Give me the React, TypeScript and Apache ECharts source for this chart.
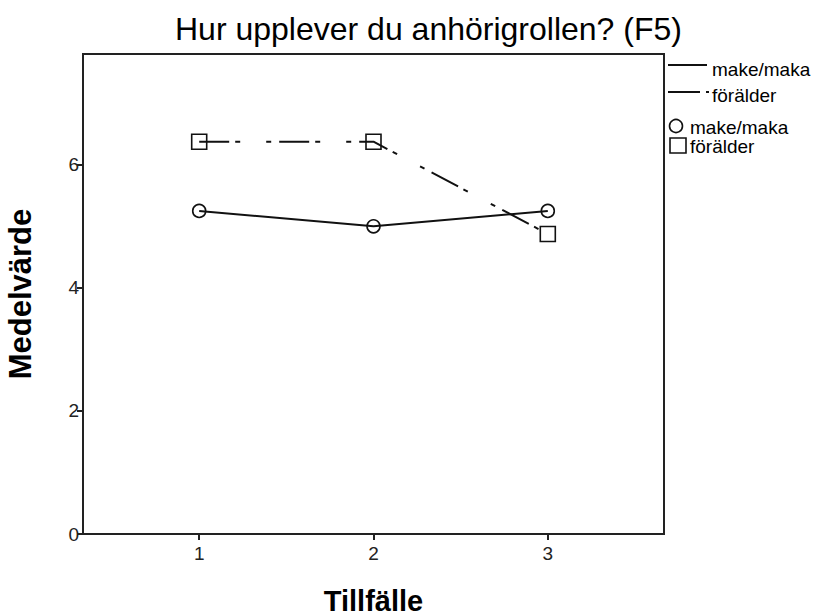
import React, { useEffect, useRef } from "react";
import * as echarts from "echarts";

const titleText = "Hur upplever du anhörigrollen? (F5)";
const xName = "Tillfälle";
const yName = "Medelvärde";
const occasions = [1, 2, 3];
const seriesNames = ["make/maka", "förälder"];
const makeMaka = [5.25, 5.0, 5.25];
const foralder = [6.375, 6.375, 4.875];
const yTicks = [0, 2, 4, 6];

const FONT = "'Liberation Sans', Arial, sans-serif";

export default function App() {
  const ref = useRef<HTMLDivElement>(null);
  useEffect(() => {
    document.body.style.margin = "0";
    const chart = echarts.init(ref.current!, undefined, { renderer: "svg" });
    const dash = [30, 6, 5, 26, 5, 8];
    const legendText = (text: string, x: number, y: number) => ({
      type: "text",
      x,
      y,
      style: {
        text,
        fontFamily: FONT,
        fontSize: 19,
        lineHeight: 17,
        fill: "#000",
        textVerticalAlign: "middle",
      },
    });
    chart.setOption({
      animation: false,
      backgroundColor: "#ffffff",
      textStyle: { fontFamily: FONT, color: "#000" },
      title: {
        text: titleText,
        left: 170,
        top: 8,
        textStyle: { fontFamily: FONT, fontSize: 32, fontWeight: "normal", color: "#000" },
      },
      grid: {
        left: 83,
        top: 54,
        width: 581,
        height: 480,
        show: true,
        borderColor: "#222",
        borderWidth: 2,
        backgroundColor: "#fff",
        containLabel: false,
        outerBoundsMode: "none",
      },
      xAxis: {
        type: "value",
        min: 1 / 3,
        max: 11 / 3,
        name: xName,
        nameLocation: "middle",
        nameGap: 52,
        nameTextStyle: { fontFamily: FONT, fontSize: 29, fontWeight: "bold", color: "#000" },
        axisLine: { show: true, onZero: false, lineStyle: { color: "#222", width: 2 } },
        axisTick: { show: true, length: 6, customValues: occasions, lineStyle: { color: "#222", width: 2 } },
        axisLabel: {
          customValues: occasions,
          margin: 10,
          fontSize: 19,
          fontFamily: FONT,
          color: "#222",
          formatter: (v: number) => String(Math.round(v)),
        },
        splitLine: { show: false },
      },
      yAxis: {
        type: "value",
        min: 0,
        max: 7.8,
        name: yName,
        nameLocation: "middle",
        nameRotate: 90,
        nameGap: 47,
        nameTextStyle: { fontFamily: FONT, fontSize: 31, fontWeight: "bold", color: "#000" },
        axisLine: { show: true, lineStyle: { color: "#222", width: 2 } },
        axisTick: { show: true, length: 6, customValues: yTicks, lineStyle: { color: "#222", width: 2 } },
        axisLabel: {
          customValues: yTicks,
          margin: 4,
          fontSize: 19,
          fontFamily: FONT,
          color: "#222",
        },
        splitLine: { show: false },
      },
      series: [
        {
          name: seriesNames[0],
          type: "line",
          data: occasions.map((x, i) => [x, makeMaka[i]]),
          symbol: "circle",
          symbolSize: 13,
          lineStyle: { color: "#111", width: 2, type: "solid" },
          itemStyle: { color: "transparent", borderColor: "#111", borderWidth: 1.6 },
          z: 3,
        },
        {
          name: seriesNames[1],
          type: "line",
          data: occasions.map((x, i) => [x, foralder[i]]),
          symbol: "rect",
          symbolSize: 15,
          lineStyle: { color: "#111", width: 2, type: dash },
          itemStyle: { color: "transparent", borderColor: "#111", borderWidth: 1.6 },
          z: 3,
        },
      ],
      graphic: [
        { type: "line", shape: { x1: 668, y1: 65, x2: 707, y2: 65 }, style: { stroke: "#111", lineWidth: 2 } },
        legendText(seriesNames[0], 712, 69),
        { type: "line", shape: { x1: 668, y1: 92, x2: 700, y2: 92 }, style: { stroke: "#111", lineWidth: 2 } },
        { type: "line", shape: { x1: 706, y1: 92, x2: 709, y2: 92 }, style: { stroke: "#111", lineWidth: 2 } },
        legendText(seriesNames[1], 712, 95),
        { type: "circle", shape: { cx: 676, cy: 126, r: 6.5 }, style: { fill: "none", stroke: "#111", lineWidth: 1.6 } },
        legendText(seriesNames[0], 690, 127),
        { type: "rect", shape: { x: 670, y: 138, width: 16, height: 15 }, style: { fill: "none", stroke: "#111", lineWidth: 1.6 } },
        legendText(seriesNames[1], 690, 146),
      ],
    });
    return () => chart.dispose();
  }, []);
  return <div ref={ref} style={{ width: 821, height: 615 }} />;
}
